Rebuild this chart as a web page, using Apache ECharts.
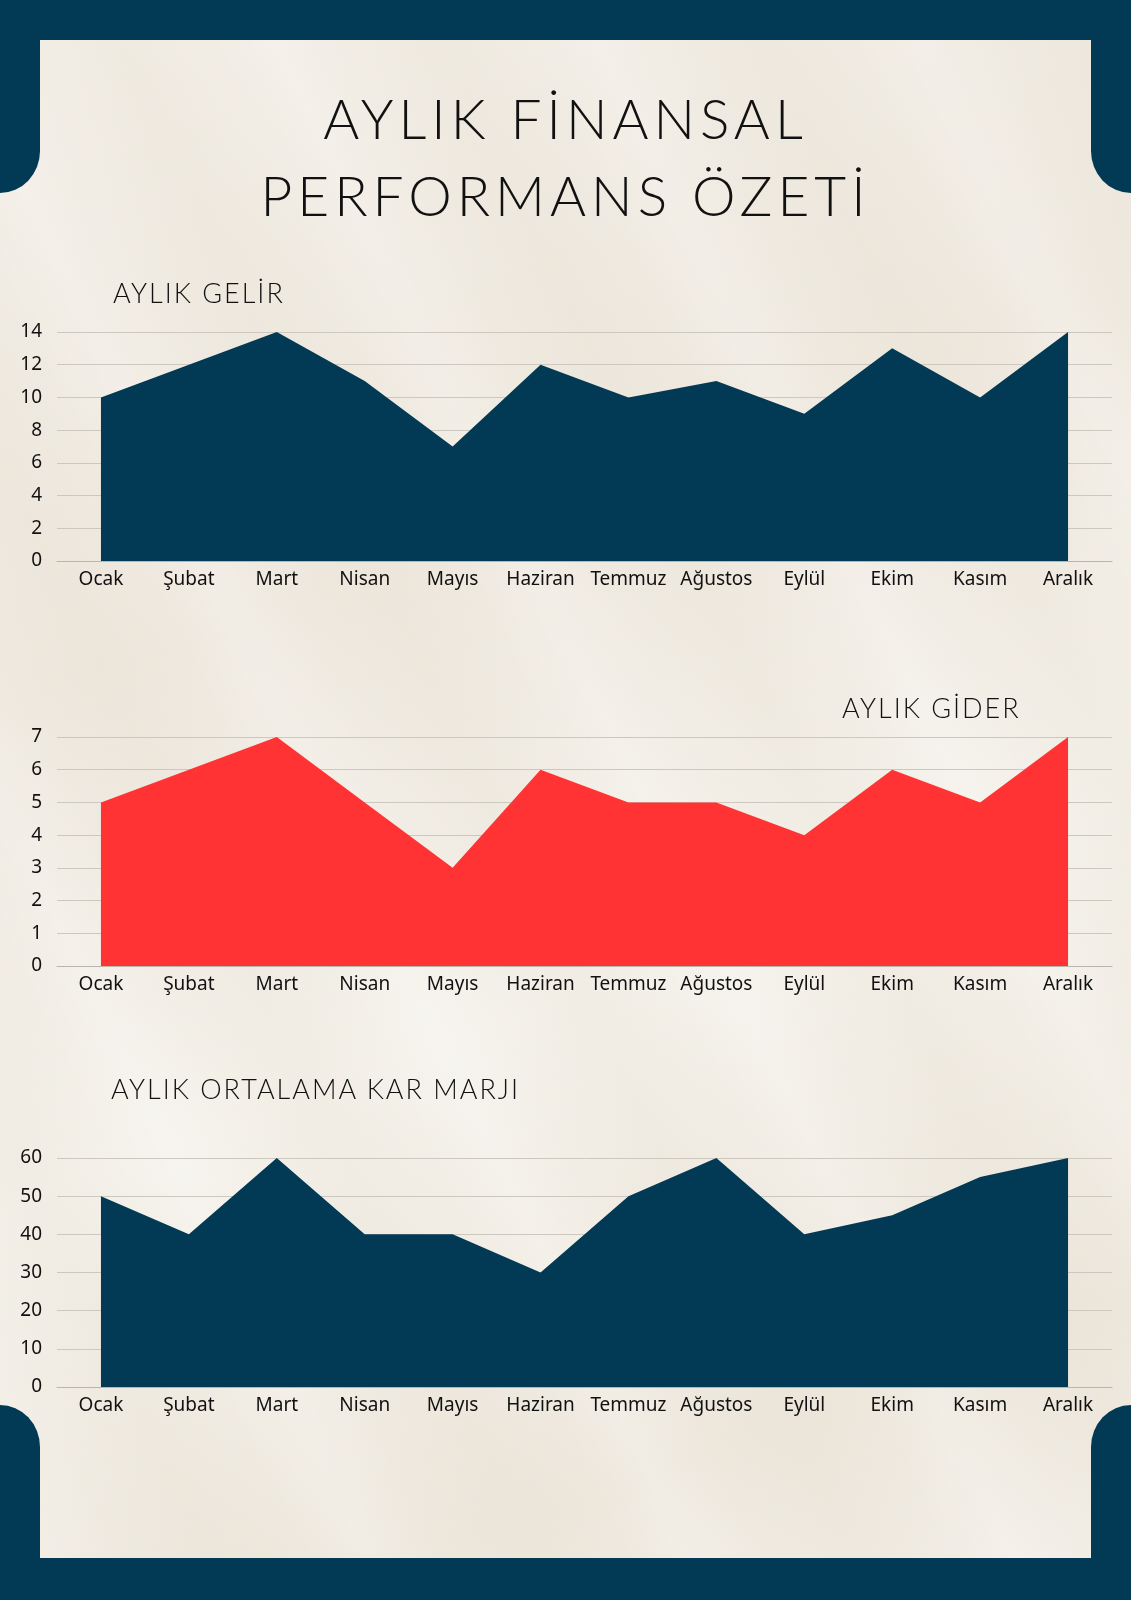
<!DOCTYPE html>
<html>
<head>
<meta charset="utf-8">
<title>Aylık Finansal Performans Özeti</title>
<script src="https://cdn.jsdelivr.net/npm/echarts@6/dist/echarts.min.js"></script>
<style>
  html, body { margin: 0; padding: 0; }
  body {
    width: 1131px; height: 1600px; position: relative; overflow: hidden;
    background-color: #f1ece3;
    background-image:
      repeating-linear-gradient(64deg, rgba(255,255,255,0) 0px, rgba(255,255,255,0.22) 60px, rgba(255,255,255,0) 130px, rgba(228,219,204,0.18) 210px, rgba(255,255,255,0) 290px),
      linear-gradient(160deg, #f2eee6 0%, #eee8de 35%, #f4f1ea 60%, #ede7dc 85%, #f3efe8 100%);
  }
  .band { position: absolute; left: 0; width: 1131px; background: #023a55; }
  .tab { position: absolute; width: 40px; height: 153px; background: #023a55; }
  .head {
    position: absolute; margin: 0; color: #111; white-space: nowrap;
    font-family: 'Lato', sans-serif; font-weight: 300; letter-spacing: 2px;
    font-size: 27px; line-height: 32px;
  }
  #mainTitle {
    left: 0; width: 1131px; top: 80px; text-align: center;
    font-size: 55px; line-height: 77px; letter-spacing: 5px;
  }
  #chart { position: absolute; left: 0; top: 0; width: 1131px; height: 1600px; }
</style>
</head>
<body>
<div class="band" style="top:0;height:40px"></div>
<div class="band" style="top:1558px;height:42px"></div>
<div class="tab" style="left:0;top:40px;border-bottom-right-radius:40px 42px"></div>
<div class="tab" style="right:0;top:40px;border-bottom-left-radius:40px 42px"></div>
<div class="tab" style="left:0;top:1405px;border-top-right-radius:40px 42px"></div>
<div class="tab" style="right:0;top:1405px;border-top-left-radius:40px 42px"></div>
<div id="chart"></div>
<h1 id="mainTitle" class="head">AYLIK FİNANSAL<br>PERFORMANS ÖZETİ</h1>
<div class="head" style="left:113px;top:277px">AYLIK GELİR</div>
<div class="head" style="left:842px;top:692px">AYLIK GİDER</div>
<div class="head" style="left:111px;top:1073px">AYLIK ORTALAMA KAR MARJI</div>
<script>
// aylar
var months = ['Ocak', 'Şubat', 'Mart', 'Nisan', 'Mayıs', 'Haziran', 'Temmuz', 'Ağustos', 'Eylül', 'Ekim', 'Kasım', 'Aralık'];
// aylık gelir
var gelir = [10, 12, 14, 11, 7, 12, 10, 11, 9, 13, 10, 14];
// aylık gider
var gider = [5, 6, 7, 5, 3, 6, 5, 5, 4, 6, 5, 7];
// ortalama kar marjı
var karMarji = [50, 40, 60, 40, 40, 30, 50, 60, 40, 45, 55, 60];

var yMax = [14, 7, 60];
var yStep = [2, 1, 10];
var gridTops = [332, 737, 1158];

var navy = '#023a55';
var red = '#ff3333';
var labelFont = { color: '#111', fontSize: 19, fontFamily: 'Noto Sans' };

var grids = [], xAxes = [], yAxes = [];
for (var i = 0; i < 3; i++) {
    grids.push({ left: 57, right: 19, top: gridTops[i], height: 229 });
    xAxes.push({
        gridIndex: i, type: 'category', data: months, boundaryGap: true,
        axisLine: { lineStyle: { color: '#b9b5ad', width: 1 } },
        axisTick: { show: false },
        axisLabel: Object.assign({ margin: 9, interval: 0 }, labelFont)
    });
    yAxes.push({
        gridIndex: i, type: 'value', min: 0, max: yMax[i], interval: yStep[i],
        axisLine: { show: false }, axisTick: { show: false },
        axisLabel: Object.assign({ margin: 15 }, labelFont),
        splitLine: { lineStyle: { color: '#cdc8bf', width: 1 } }
    });
}

function areaSeries(idx, data, color) {
    return {
        type: 'line', xAxisIndex: idx, yAxisIndex: idx, data: data,
        symbol: 'none', lineStyle: { width: 0 },
        areaStyle: { color: color, opacity: 1 },
        silent: true, animation: false
    };
}

var chart = echarts.init(document.getElementById('chart'), null, { renderer: 'canvas' });
chart.setOption({
    backgroundColor: 'transparent',
    animation: false,
    grid: grids,
    xAxis: xAxes,
    yAxis: yAxes,
    series: [
        areaSeries(0, gelir, navy),
        areaSeries(1, gider, red),
        areaSeries(2, karMarji, navy)
    ]
});
</script>
</body>
</html>
